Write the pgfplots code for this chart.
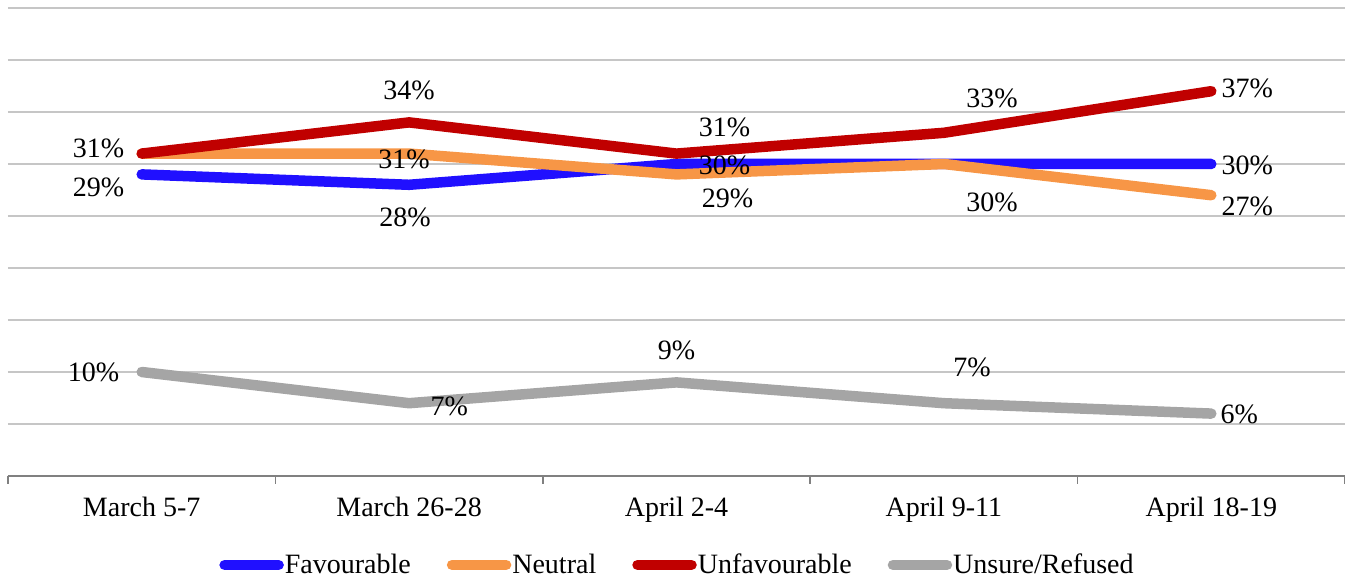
\documentclass[border=0pt]{standalone}
\usepackage{pgfplots}
\pgfplotsset{compat=1.18}
\usepackage{pgfplotstable}
\usepackage{fontspec}
\setmainfont{Liberation Serif}
\definecolor{cfav}{RGB}{32,16,255}
\definecolor{cneu}{RGB}{247,150,70}
\definecolor{cunf}{RGB}{192,0,0}
\definecolor{cuns}{RGB}{165,165,165}

\pgfplotstableread{
x y
0 29
1 28
2 30
3 30
4 30
}\fav
\pgfplotstableread{
x y
0 31
1 31
2 29
3 30
4 27
}\neu
\pgfplotstableread{
x y
0 31
1 34
2 31
3 33
4 37
}\unf
\pgfplotstableread{
x y
0 10
1 7
2 9
3 7
4 6
}\uns

% data labels: position of the label centre (data coordinates) and value
\pgfplotstableread{
x y v
-0.161 27.75 29
0.985 24.83 28
2.18 29.9 30
4.135 29.9 30
}\favlab
\pgfplotstableread{
x y v
0.981 30.42 31
2.191 26.69 29
3.18 26.35 30
4.135 25.94 27
}\neulab
\pgfplotstableread{
x y v
-0.161 31.48 31
1 37.08 34
2.18 33.5 31
3.18 36.27 33
4.135 37.29 37
}\unflab
\pgfplotstableread{
x y v
-0.18 10 10
1.15 6.71 7
2 12.08 9
3.105 10.46 7
4.105 5.9 6
}\unslab

\pgfplotsset{
  lab/.style={forget plot, draw=none, mark=none,
    point meta=explicit symbolic,
    nodes near coords={\pgfplotspointmeta\%},
    nodes near coords style={anchor=center, inner sep=0pt, text=black}},
  ser/.style={#1, line width=5.25pt, line cap=round, line join=round, mark=none},
}

\begin{document}
\begin{tikzpicture}[font=\fontsize{14}{17}\selectfont]
\useasboundingbox (-4pt,-53pt) rectangle (668.5pt,238pt);
\begin{axis}[
  at={(0,0)}, anchor=south west,
  scale only axis, width=668.5pt, height=234pt,
  xmin=-0.5, xmax=4.5, ymin=0, ymax=45,
  axis x line*=bottom, axis y line*=left,
  y axis line style={draw=none},
  x axis line style={draw=gray, line width=0.75pt, -},
  major tick length=0pt,
  xtick={0,1,2,3,4},
  xticklabels={March 5-7, March 26-28, April 2-4, April 9-11, April 18-19},
  xticklabel style={anchor=base, yshift=-20.5pt, inner sep=0pt},
  extra x ticks={-0.5,0.5,1.5,2.5,3.5,4.5},
  extra x tick labels={},
  extra x tick style={grid=none, tick align=outside, major tick length=4pt,
     tick style={draw=gray, line width=0.75pt}},
  ytick={0,5,...,45},
  yticklabels={},
  ymajorgrids,
  grid style={draw=gray!45, line width=0.75pt},
  clip=false,
  legend columns=4,
  legend style={at={(0.5,-0.1900)}, anchor=center, draw=none, fill=none,
    nodes={inner sep=0pt},
    /tikz/every odd column/.append style={column sep=0.5pt},
    /tikz/every even column/.append style={column sep=18pt}},
  legend image code/.code={\path (0pt,0pt) -- (27pt,0pt);
    \draw[#1, line width=5.25pt, line cap=round] (2.5pt,0pt) -- (24pt,0pt);},
]
\addplot[ser=cfav] table[x=x,y=y] {\fav};
\addlegendentry{Favourable}
\addplot[ser=cneu] table[x=x,y=y] {\neu};
\addlegendentry{Neutral}
\addplot[ser=cunf] table[x=x,y=y] {\unf};
\addlegendentry{Unfavourable}
\addplot[ser=cuns] table[x=x,y=y] {\uns};
\addlegendentry{Unsure/Refused}

\addplot[lab] table[x=x,y=y,meta=v] {\favlab};
\addplot[lab] table[x=x,y=y,meta=v] {\neulab};
\addplot[lab] table[x=x,y=y,meta=v] {\unflab};
\addplot[lab] table[x=x,y=y,meta=v] {\unslab};
\end{axis}
\end{tikzpicture}
\end{document}
